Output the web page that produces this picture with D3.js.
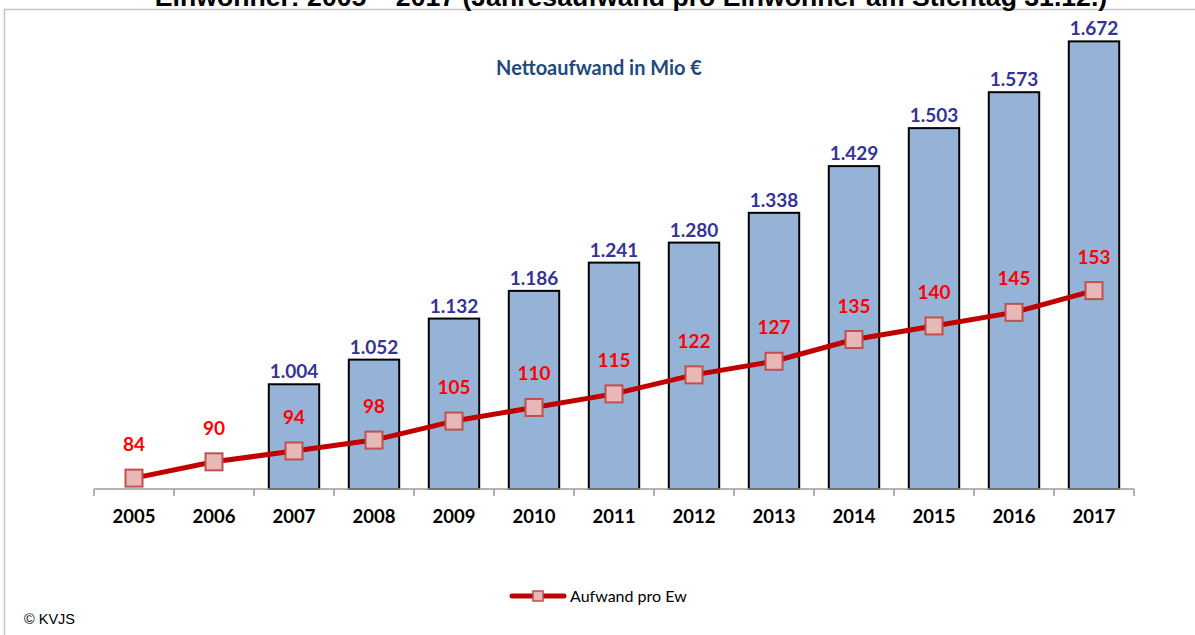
<!DOCTYPE html>
<html><head><meta charset="utf-8">
<script src="https://cdn.jsdelivr.net/npm/d3@7"></script>
<style>html,body{margin:0;padding:0;background:#fff;overflow:hidden}</style>
</head><body>
<script>
const years = ["2005","2006","2007","2008","2009","2010","2011","2012","2013","2014","2015","2016","2017"];
const nettoaufwand = [null,null,1004,1052,1132,1186,1241,1280,1338,1429,1503,1573,1672];
const aufwandProEw = [84,90,94,98,105,110,115,122,127,135,140,145,153];
const barDomain = [800,1700];
const lineDomain = [80,250];
const titleText = "Einwohner: 2005 – 2017 (Jahresaufwand pro Einwohner am Stichtag 31.12.)";
const innerTitle = "Nettoaufwand in Mio €";
const legendLabel = "Aufwand pro Ew";
const sourceText = "© KVJS";

const W = 1195, H = 635;
const svg = d3.select("body").append("svg").attr("width", W).attr("height", H);

// frame
svg.append("rect").attr("x",4.5).attr("y",9.5).attr("width",W+20).attr("height",H+20)
  .attr("fill","none").attr("stroke","#c4c4c4").attr("stroke-width",1.5);

// title (cut off at top, as in the reference)
const t = svg.append("text").text(titleText).attr("x",631).attr("y",6)
  .attr("text-anchor","middle").attr("font-family","Liberation Sans, Arial, sans-serif")
  .attr("font-weight","bold").attr("font-size",22).attr("fill","#000");
const tl = t.node().getComputedTextLength();
t.attr("font-size", 22*953/tl);

const x = d3.scaleBand().domain(years).range([94,1134]).padding(0);
const yBar = d3.scaleLinear().domain(barDomain).range([489,27]);
const yLine = d3.scaleLinear().domain(lineDomain).range([489,27]);
const barW = x.bandwidth()*0.63;
const fmt = d3.formatLocale({decimal:",",thousands:".",grouping:[3],currency:["","€"]}).format(",d");
const font = "Lato, 'Open Sans', sans-serif";

const it = svg.append("text").text(innerTitle).attr("x",599).attr("y",75).attr("text-anchor","middle")
  .attr("font-family",font).attr("font-weight","bold").attr("font-size",17).attr("fill","#1F497D");
it.attr("font-size", 17*206/it.node().getComputedTextLength());

const barData = years.map((y,i)=>({y, v: nettoaufwand[i]})).filter(d=>d.v!=null);
svg.append("g").selectAll("rect").data(barData).join("rect")
  .attr("x", d=>x(d.y)+x.bandwidth()/2-barW/2)
  .attr("y", d=>yBar(d.v))
  .attr("width", barW)
  .attr("height", d=>yBar(barDomain[0])-yBar(d.v))
  .attr("fill","#95B3D7").attr("stroke","#000").attr("stroke-width",2);

svg.append("g").selectAll("text").data(barData).join("text")
  .attr("x", d=>x(d.y)+x.bandwidth()/2).attr("y", d=>yBar(d.v)-6)
  .attr("text-anchor","middle").attr("font-family",font).attr("font-weight","bold")
  .attr("font-size",19).attr("fill","#333399").text(d=>fmt(d.v));

// axis
const axis = d3.axisBottom(x).tickSize(0).tickFormat(d=>d);
const ag = svg.append("g").attr("transform","translate(0,489)").call(axis);
ag.select(".domain").remove();
ag.selectAll(".tick text").attr("dy",0).attr("y",34).attr("font-family",font)
  .attr("font-weight","bold").attr("font-size",18.5).attr("fill","#000");
svg.append("line").attr("x1",94).attr("x2",1134).attr("y1",489).attr("y2",489)
  .attr("stroke","#9a9a9a").attr("stroke-width",1.5);
const bounds = years.map(y=>x(y)).concat([x(years[years.length-1])+x.step()]);
svg.append("g").selectAll("line").data(bounds).join("line")
  .attr("x1",d=>d).attr("x2",d=>d).attr("y1",489).attr("y2",496)
  .attr("stroke","#9a9a9a").attr("stroke-width",1.5);

// line series
const lineData = years.map((y,i)=>({y, v: aufwandProEw[i]}));
const line = d3.line().x(d=>x(d.y)+x.bandwidth()/2).y(d=>yLine(d.v));
svg.append("path").datum(lineData).attr("d",line).attr("fill","none")
  .attr("stroke","#C00000").attr("stroke-width",5).attr("stroke-linejoin","round");
const ms = 17;
svg.append("g").selectAll("rect").data(lineData).join("rect")
  .attr("x", d=>x(d.y)+x.bandwidth()/2-ms/2).attr("y", d=>yLine(d.v)-ms/2)
  .attr("width",ms).attr("height",ms)
  .attr("fill","#E6B9B8").attr("stroke","#C0504D").attr("stroke-width",2);
svg.append("g").selectAll("text").data(lineData).join("text")
  .attr("x", d=>x(d.y)+x.bandwidth()/2).attr("y", d=>yLine(d.v)-27)
  .attr("text-anchor","middle").attr("font-family",font).attr("font-weight","bold")
  .attr("font-size",19).attr("fill","#FF0000").text(d=>d.v);

// legend
const lg = svg.append("g");
lg.append("line").attr("x1",512).attr("x2",564).attr("y1",596).attr("y2",596)
  .attr("stroke","#C00000").attr("stroke-width",5).attr("stroke-linecap","round");
lg.append("rect").attr("x",533).attr("y",591).attr("width",10).attr("height",10)
  .attr("fill","#E6B9B8").attr("stroke","#C0504D").attr("stroke-width",1.5);
lg.append("text").text(legendLabel).attr("x",570).attr("y",601.5)
  .attr("font-family",font).attr("font-size",16).attr("fill","#000");

svg.append("text").text(sourceText).attr("x",24).attr("y",624)
  .attr("font-family","Liberation Sans, Arial, sans-serif").attr("font-size",14.5).attr("fill","#000");
</script>
</body></html>
